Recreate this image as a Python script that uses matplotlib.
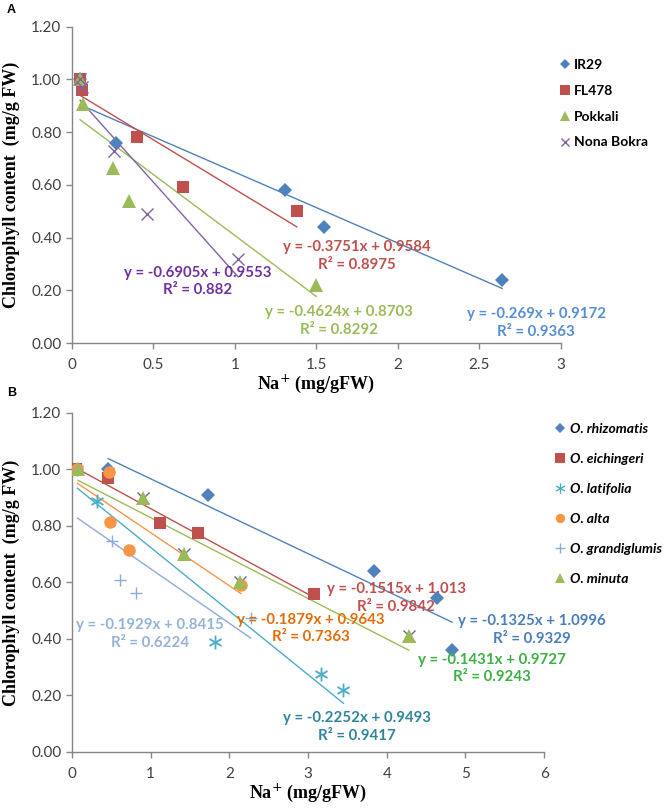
import numpy as np
import matplotlib.pyplot as plt

# panel A: cultivars
a_names = ["IR29", "FL478", "Pokkali", "Nona Bokra"]
a_x = [[0.05, 0.27, 1.31, 1.55, 2.64],
       [0.05, 0.06, 0.40, 0.68, 1.38],
       [0.05, 0.07, 0.25, 0.35, 1.50],
       [0.05, 0.06, 0.26, 0.46, 1.02]]
a_y = [[1.00, 0.76, 0.58, 0.44, 0.24],
       [1.00, 0.96, 0.78, 0.59, 0.50],
       [1.00, 0.905, 0.665, 0.54, 0.22],
       [1.00, 0.97, 0.73, 0.49, 0.32]]
a_slope = [-0.269, -0.3751, -0.4624, -0.6905]
a_icpt = [0.9172, 0.9584, 0.8703, 0.9553]
a_r2 = ["0.9363", "0.8975", "0.8292", "0.882"]

# panel B: wild species
b_names = ["O. rhizomatis", "O. eichingeri", "O. latifolia", "O. alta",
           "O. grandiglumis", "O. minuta"]
b_x = [[0.46, 1.73, 3.84, 4.64, 4.83],
       [0.05, 0.46, 1.12, 1.60, 3.07],
       [0.07, 0.32, 1.82, 3.17, 3.45],
       [0.07, 0.47, 0.48, 0.72, 2.15],
       [0.07, 0.51, 0.61, 0.82, 2.27],
       [0.08, 0.90, 1.43, 2.14, 4.28]]
b_y = [[1.00, 0.91, 0.64, 0.545, 0.36],
       [1.00, 0.97, 0.81, 0.775, 0.56],
       [1.00, 0.89, 0.39, 0.275, 0.22],
       [1.00, 0.99, 0.815, 0.715, 0.59],
       [1.00, 0.747, 0.61, 0.563, 0.474],
       [1.00, 0.90, 0.70, 0.60, 0.41]]
b_slope = [-0.1325, -0.1515, -0.2252, -0.1879, -0.1929, -0.1431]
b_icpt = [1.0996, 1.013, 0.9493, 0.9643, 0.8415, 0.9727]
b_r2 = ["0.9329", "0.9842", "0.9417", "0.7363", "0.6224", "0.9243"]
# unlabelled series hidden behind the O. minuta triangles
hid_x = [0.90, 1.43, 2.14, 4.28]
hid_y = [0.90, 0.70, 0.60, 0.41]

a_col = ["#4F81BD", "#C0504D", "#9BBB59", "#8064A2"]
a_mk = ["D", "s", "^", "x"]
a_ms = [7, 9, 10, 8]
a_txt = ["#558ED5", "#C0504D", "#9BBB59", "#7030A0"]
a_pos = [(2.85, 0.076), (1.75, 0.33), (1.64, 0.084), (0.77, 0.234)]

b_col = ["#4F81BD", "#C0504D", "#4BACC6", "#F79646", "#8EA9DB", "#9BBB59"]
b_mk = ["D", "s", "$\u2217$", "o", "+", "^"]
b_ms = [7, 9, 10, 9, 9, 10]
b_txt = ["#4A7EBB", "#C0504D", "#31849B", "#E46C0A", "#95B3D7", "#3CB043"]
b_pos = [(5.85, 0.432), (4.12, 0.545), (3.62, 0.088), (3.04, 0.437),
         (0.99, 0.418), (5.34, 0.296)]

grey = "#868686"
tick_font = "Lato"
eq_font = "Lato"

fig = plt.figure(figsize=(6.66, 8.09), dpi=100)
axA = fig.add_axes([0.108, 0.576, 0.734, 0.391])
axB = fig.add_axes([0.108, 0.0705, 0.709, 0.419])


def style(ax, xmax, xstep):
    ax.set_ylim(0, 1.2)
    ax.set_xlim(0, xmax)
    ax.set_yticks(np.arange(0, 1.21, 0.2))
    ax.set_yticklabels(["%.2f" % v for v in np.arange(0, 1.21, 0.2)])
    ax.set_xticks(np.arange(0, xmax + 0.01, xstep))
    ax.set_xticklabels(["%g" % v for v in np.arange(0, xmax + 0.01, xstep)])
    for s in ["top", "right"]:
        ax.spines[s].set_visible(False)
    for s in ["left", "bottom"]:
        ax.spines[s].set_color(grey)
        ax.spines[s].set_linewidth(1.0)
    ax.tick_params(colors=grey, labelcolor="#404040", length=4, width=1,
                   labelsize=11)
    ax.tick_params(axis="x", pad=7)
    for lab in ax.get_xticklabels() + ax.get_yticklabels():
        lab.set_family(tick_font)
    ax.set_ylabel("Chlorophyll content  (mg/g FW)", family="Liberation Serif",
                  weight="bold", fontsize=13, labelpad=8)
    ax.set_xlabel("Na$^{+}$ (mg/gFW)", family="Liberation Serif",
                  weight="bold", fontsize=13, labelpad=0)


# panel A
for i in range(4):
    x = np.array(a_x[i])
    xs = np.array([x.min(), x.max()])
    axA.plot(xs, a_slope[i] * xs + a_icpt[i], color=a_col[i], lw=1, zorder=3)
for i in range(4):
    axA.plot(a_x[i], a_y[i], linestyle="none", marker=a_mk[i], ms=a_ms[i],
             color=a_col[i], mew=1 if a_mk[i] == "x" else 0, label=a_names[i],
             zorder=4)
for i in range(4):
    eq = "y = %sx + %s\nR\u00b2 = %s" % (a_slope[i], a_icpt[i], a_r2[i])
    axA.text(a_pos[i][0], a_pos[i][1], eq, ha="center", va="center",
             color=a_txt[i], family=eq_font, weight="bold", fontsize=10.8,
             linespacing=1.3, zorder=5)
style(axA, 3, 0.5)
axA.legend(loc="upper left", bbox_to_anchor=(0.985, 0.915), frameon=False,
           handlelength=0.8, handletextpad=0.3, labelspacing=0.99,
           markerscale=0.75, borderaxespad=0,
           prop={"family": "Lato", "weight": "bold", "size": 10})

# panel B
for i in range(6):
    x = np.array(b_x[i])
    xs = np.array([x.min(), x.max()])
    axB.plot(xs, b_slope[i] * xs + b_icpt[i], color=b_col[i], lw=1, zorder=3)
axB.plot(hid_x, hid_y, linestyle="none", marker="x", ms=8, mew=1,
         color="#6C5E9E", zorder=4)
for i in range(6):
    axB.plot(b_x[i], b_y[i], linestyle="none", marker=b_mk[i], ms=b_ms[i],
             color=b_col[i], mew=1 if b_mk[i] == "+" else 0,
             label=b_names[i], zorder=4)
for i in range(6):
    eq = "y = %sx + %s\nR\u00b2 = %s" % (b_slope[i], b_icpt[i], b_r2[i])
    axB.text(b_pos[i][0], b_pos[i][1], eq, ha="center", va="center",
             color=b_txt[i], family=eq_font, weight="bold", fontsize=10.8,
             linespacing=1.3, zorder=5)
style(axB, 6, 1)
axB.legend(loc="upper left", bbox_to_anchor=(1.01, 0.988), frameon=False,
           handlelength=0.8, handletextpad=0.3, labelspacing=1.30,
           markerscale=0.75, borderaxespad=0,
           prop={"family": "Lato", "weight": "bold", "style": "italic",
                 "size": 10})

fig.text(0.01, 0.988, "A", family="Liberation Sans", weight="bold",
         fontsize=9, va="center")
fig.text(0.01, 0.514, "B", family="Liberation Sans", weight="bold",
         fontsize=9, va="center")

fig.savefig("out.png", dpi=100)
